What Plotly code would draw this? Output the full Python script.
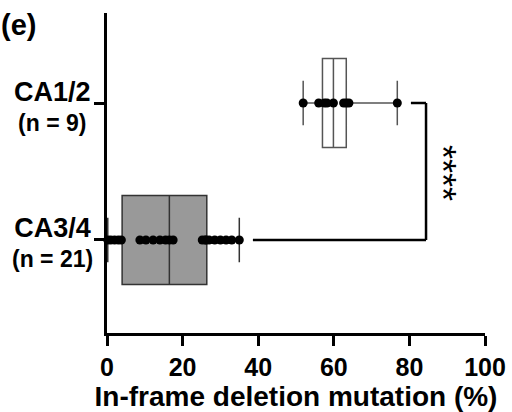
import plotly.graph_objects as go

# ---- data ----
groups = ["CA1/2", "CA3/4"]
group_counts = ["(n = 9)", "(n = 21)"]
group_pos = [1, 0]

ca12_values = [51.9, 56.0, 57.5, 58.2, 59.9, 62.6, 63.3, 64.0, 76.8]
ca34_values = [0.2, 1.0, 2.0, 3.0, 3.8, 8.7, 10.3, 12.2, 14.0, 15.5, 16.5,
               17.5, 25.2, 26.0, 26.2, 27.0, 28.5, 30.0, 31.5, 33.0, 35.0]

q1_vals = [57.0, 4.0]
median_vals = [59.9, 16.5]
q3_vals = [63.3, 26.4]
low_vals = [51.9, 0.2]
high_vals = [76.8, 35.0]

x_ticks = [0, 20, 40, 60, 80, 100]
significance = "****"
bracket_x = [80.4, 84.4, 38.6]  # top-left end, vertical, bottom-left end

FONT = "Liberation Sans, Arial, sans-serif"

fig = go.Figure()

box_fill = ["rgba(0,0,0,0)", "#999999"]
box_line = ["#555555", "#333333"]
for i in range(2):
    fig.add_trace(go.Box(
        y=[group_pos[i]], q1=[q1_vals[i]], median=[median_vals[i]], q3=[q3_vals[i]],
        lowerfence=[low_vals[i]], upperfence=[high_vals[i]],
        orientation="h", width=0.65, whiskerwidth=0.5,
        fillcolor=box_fill[i], line=dict(color=box_line[i], width=1.5),
        boxpoints=False, showlegend=False, hoverinfo="skip",
    ))

for vals, pos in [(ca12_values, group_pos[0]), (ca34_values, group_pos[1])]:
    fig.add_trace(go.Scatter(
        x=vals, y=[pos] * len(vals), mode="markers",
        marker=dict(color="black", size=9), showlegend=False, cliponaxis=False,
    ))

# significance bracket
fig.add_shape(type="line", x0=bracket_x[0], x1=bracket_x[1], y0=group_pos[0], y1=group_pos[0],
              line=dict(color="black", width=2.5))
fig.add_shape(type="line", x0=bracket_x[1], x1=bracket_x[1], y0=group_pos[0], y1=group_pos[1],
              line=dict(color="black", width=2.5))
fig.add_shape(type="line", x0=bracket_x[2], x1=bracket_x[1], y0=group_pos[1], y1=group_pos[1],
              line=dict(color="black", width=2.5))

fig.add_annotation(x=88.6, y=0.49, text=significance, textangle=90, showarrow=False,
                   font=dict(family=FONT, size=36, color="black"), xanchor="center", yanchor="middle")

fig.add_annotation(xref="paper", yref="paper", x=-0.285, y=0.9625, text="<b>(e)</b>",
                   showarrow=False, xanchor="left", yanchor="middle",
                   font=dict(family=FONT, size=29, color="black"))

# group labels (centered two-line labels at the y ticks)
for name, cnt, pos in zip(groups, group_counts, group_pos):
    fig.add_annotation(
        xref="paper", yref="y", x=-0.1455, y=pos, yshift=-3,
        text=f"<b><span style='font-size:27px'>{name}</span><br>{cnt}</b>",
        showarrow=False, xanchor="center", yanchor="middle", align="center",
        font=dict(family=FONT, size=23, color="black"),
    )

fig.update_layout(
    width=512, height=412,
    margin=dict(l=107, r=27, t=13, b=79, autoexpand=False),
    paper_bgcolor="white", plot_bgcolor="white",
    font=dict(family=FONT, color="black"),
    xaxis=dict(
        range=[0, 100], tickvals=x_ticks, ticktext=[f"<b>{v}</b>" for v in x_ticks],
        showline=True, linecolor="black", linewidth=3,
        ticks="outside", ticklen=10, tickwidth=3, tickcolor="black",
        showgrid=False, zeroline=False, automargin=False,
        tickfont=dict(family=FONT, size=25, color="black"),
        title=dict(text="<b>In-frame deletion mutation (%)</b>", standoff=10,
                   font=dict(family=FONT, size=28, color="black")),
    ),
    yaxis=dict(
        range=[-0.679, 1.657], tickvals=group_pos, ticktext=["", ""],
        showline=True, linecolor="black", linewidth=3,
        ticks="outside", ticklen=10, tickwidth=3, tickcolor="black",
        showgrid=False, zeroline=False, automargin=False,
    ),
)

fig.write_html("out.html")
